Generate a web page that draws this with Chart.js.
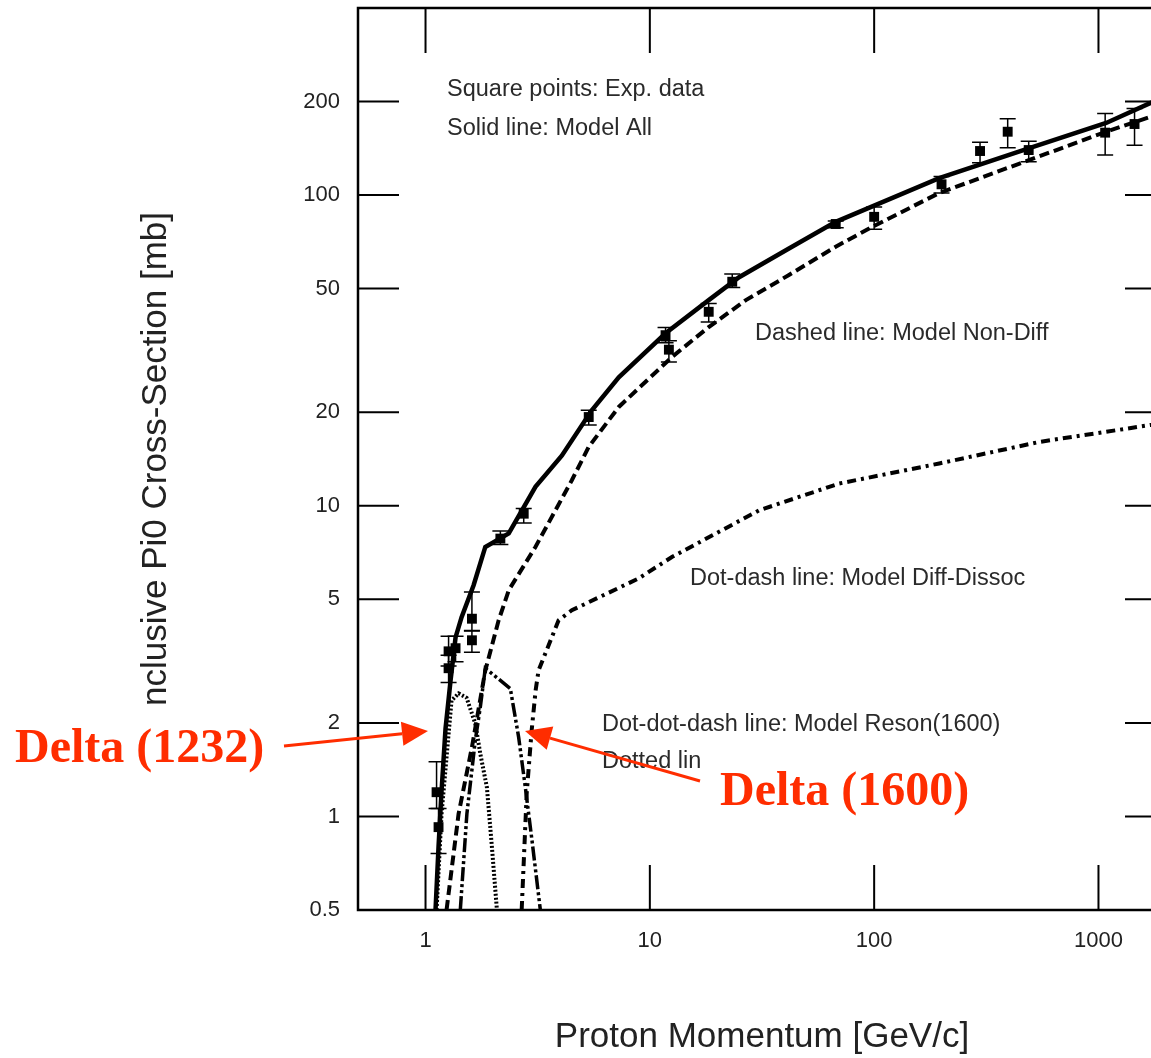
<!DOCTYPE html>
<html>
<head>
<meta charset="utf-8">
<title>Inclusive Pi0 Cross-Section</title>
<script src="https://cdn.jsdelivr.net/npm/chart.js@4.4.1/dist/chart.umd.min.js"></script>
<style>
    html, body { margin: 0; padding: 0; background: #fff; overflow: hidden; }
    #wrap { width: 1180px; height: 1058px; }
</style>
</head>
<body>
<div id="wrap"><canvas id="xsecChart" width="1180" height="1058"></canvas></div>
<script>
// axis ticks
const xTicks = [1, 10, 100, 1000];
const yTicks = [0.5, 1, 2, 5, 10, 20, 50, 100, 200];

// experimental points (squares) with error bars
const expP    = [1.12, 1.143, 1.267, 1.267, 1.361, 1.61, 1.61, 2.156, 2.74, 5.34, 11.75, 12.16, 18.3, 23.3, 67.4, 100, 199.7, 296.5, 393.8, 488.6, 1071, 1448];
const expXsec = [1.197, 0.924, 3.40, 3.0, 3.48, 4.33, 3.69, 7.84, 9.43, 19.3, 35.4, 31.8, 42.1, 52.6, 80.7, 85.1, 108.3, 138.6, 159.9, 139.6, 158.8, 169.3];
const expLow  = [1.06, 0.76, 3.05, 2.7, 3.15, 3.95, 3.38, 7.5, 8.8, 18.2, 33.5, 29.0, 39.0, 50.4, 78.5, 77.6, 101.5, 127, 142, 128, 134.6, 144.6];
const expHigh = [1.5, 1.06, 3.80, 3.3, 3.8, 5.28, 3.97, 8.3, 9.8, 20.3, 37.5, 34.0, 44.8, 55.7, 82.5, 91.5, 114.7, 148, 176, 149, 183, 190];

// Model All (solid)
const allP    = [1.108, 1.143, 1.179, 1.228, 1.293, 1.361, 1.448, 1.638, 1.847, 2.35, 3.09, 4.05, 5.51, 7.27, 11.75, 18.3, 25.0, 41.7, 67.4, 195, 492, 1082, 1708, 2000];
const allXsec = [0.5, 0.80, 1.21, 1.92, 2.74, 3.77, 4.38, 5.55, 7.37, 8.15, 11.5, 14.5, 20.3, 25.9, 35.9, 45.9, 54.4, 67.3, 82.0, 113.4, 141.7, 170.6, 197.9, 206];

// Model Non-Diff (dashed)
const nonDiffP    = [1.241, 1.404, 1.61, 1.847, 2.118, 2.35, 3.09, 4.49, 5.34, 7.27, 12.54, 18.3, 26.8, 41.7, 67.4, 98, 195, 492, 1082, 1708, 2000];
const nonDiffXsec = [0.5, 1.02, 1.67, 2.95, 4.28, 5.35, 7.37, 12.08, 15.47, 20.8, 30.1, 37.6, 45.9, 55.3, 68.2, 79, 101.5, 129.7, 159.9, 178.7, 184];

// Model Diff-Dissoc (dot-dash)
const diffP    = [2.683, 2.825, 2.972, 3.097, 3.19, 3.92, 4.49, 8.93, 12.54, 30.7, 69.8, 195, 545, 1708, 2000];
const diffXsec = [0.5, 1.186, 1.89, 2.55, 2.95, 4.28, 4.61, 5.84, 6.84, 9.67, 11.79, 13.68, 16.05, 18.2, 18.4];

// Model Reson(1600) (dot-dot-dash)
const reson1600P    = [1.429, 1.529, 1.667, 1.755, 1.847, 2.388, 2.601, 2.786, 2.983, 3.25];
const reson1600Xsec = [0.5, 1.02, 1.76, 2.25, 3.0, 2.58, 1.80, 1.24, 0.837, 0.5];

// Model Reson(1232) (dotted)
const reson1232P    = [1.12, 1.179, 1.306, 1.404, 1.524, 1.667, 1.755, 1.878, 1.977, 2.081];
const reson1232Xsec = [0.5, 1.02, 2.36, 2.49, 2.41, 1.99, 1.59, 1.24, 0.796, 0.5];

const toPoints = (xs, ys) => xs.map((x, i) => ({ x: x, y: ys[i] }));

const curve = (label, xs, ys, dash, width) => ({
    label: label,
    data: toPoints(xs, ys),
    showLine: true,
    borderColor: '#000',
    borderWidth: width,
    borderDash: dash,
    pointRadius: 0,
    fill: false,
    tension: 0
});

const fontFamily = '"Liberation Sans", Arial, Helvetica, sans-serif';

// text labels inside the frame (left x, baseline y in px)
const notes = [
    { text: 'Square points: Exp. data', x: 447, y: 96 },
    { text: 'Solid line: Model All', x: 447, y: 135 },
    { text: 'Dashed line: Model Non-Diff', x: 755, y: 340 },
    { text: 'Dot-dash line: Model Diff-Dissoc', x: 690, y: 585 },
    { text: 'Dot-dot-dash line: Model Reson(1600)', x: 602, y: 731 },
    { text: 'Dotted lin', x: 602, y: 768 }
];

// the frame sits exactly where the axes say, no label overhang
const noOverhang = s => {
    s.paddingTop = 0;
    s.paddingBottom = 0;
    s.paddingLeft = 0;
    s.paddingRight = 0;
};

const errorBars = {
    id: 'errorBars',
    afterDatasetsDraw(chart) {
        const { ctx, scales: { x, y } } = chart;
        ctx.save();
        ctx.strokeStyle = '#000';
        ctx.lineWidth = 1.5;
        expP.forEach((p, i) => {
            const px = x.getPixelForValue(p);
            const hi = y.getPixelForValue(expHigh[i]);
            const lo = y.getPixelForValue(expLow[i]);
            ctx.beginPath();
            ctx.moveTo(px, hi); ctx.lineTo(px, lo);
            ctx.moveTo(px - 8, hi); ctx.lineTo(px + 8, hi);
            ctx.moveTo(px - 8, lo); ctx.lineTo(px + 8, lo);
            ctx.stroke();
        });
        ctx.restore();
    }
};

const frame = {
    id: 'frame',
    afterDraw(chart) {
        const { ctx, chartArea: a, scales: { x, y } } = chart;
        ctx.save();
        ctx.strokeStyle = '#000';
        ctx.lineWidth = 2.5;
        ctx.strokeRect(a.left, a.top, a.right - a.left, a.bottom - a.top);
        ctx.lineWidth = 2;
        ctx.beginPath();
        xTicks.forEach(v => {
            const px = x.getPixelForValue(v);
            ctx.moveTo(px, a.bottom); ctx.lineTo(px, a.bottom - 45);
            ctx.moveTo(px, a.top); ctx.lineTo(px, a.top + 45);
        });
        yTicks.forEach(v => {
            const py = y.getPixelForValue(v);
            ctx.moveTo(a.left, py); ctx.lineTo(a.left + 41, py);
            ctx.moveTo(a.right, py); ctx.lineTo(a.right - 41, py);
        });
        ctx.stroke();
        ctx.restore();
    }
};

function arrow(ctx, x1, y1, x2, y2) {
    const ang = Math.atan2(y2 - y1, x2 - x1);
    const len = 26, half = 12;
    const bx = x2 - len * Math.cos(ang), by = y2 - len * Math.sin(ang);
    ctx.beginPath();
    ctx.moveTo(x1, y1);
    ctx.lineTo(bx, by);
    ctx.stroke();
    ctx.beginPath();
    ctx.moveTo(x2, y2);
    ctx.lineTo(bx + half * Math.sin(ang), by - half * Math.cos(ang));
    ctx.lineTo(bx - half * Math.sin(ang), by + half * Math.cos(ang));
    ctx.closePath();
    ctx.fill();
}

const annotations = {
    id: 'annotations',
    afterDraw(chart) {
        const ctx = chart.ctx;
        ctx.save();
        ctx.fillStyle = '#2a2a2a';
        ctx.font = '23.5px ' + fontFamily;
        ctx.textBaseline = 'alphabetic';
        ctx.textAlign = 'left';
        notes.forEach(n => ctx.fillText(n.text, n.x, n.y));

        // red overlay labels and arrows
        ctx.fillStyle = '#ff2d00';
        ctx.strokeStyle = '#ff2d00';
        ctx.lineWidth = 3;
        ctx.font = 'bold 48px "Liberation Serif", "Times New Roman", serif';
        ctx.fillText('Delta (1232)', 15, 762);
        ctx.fillText('Delta (1600)', 720, 805);
        arrow(ctx, 284, 746, 428, 731);
        arrow(ctx, 700, 781, 525, 731);
        ctx.restore();
    }
};

new Chart(document.getElementById('xsecChart').getContext('2d'), {
    type: 'scatter',
    data: {
        datasets: [
            {
                label: 'Exp. data',
                data: toPoints(expP, expXsec),
                pointStyle: 'rect',
                pointRadius: 7,
                backgroundColor: '#000',
                borderColor: '#000',
                borderWidth: 0
            },
            curve('Model All', allP, allXsec, [], 4.5),
            curve('Model Non-Diff', nonDiffP, nonDiffXsec, [10, 5], 4),
            curve('Model Diff-Dissoc', diffP, diffXsec, [9, 5, 3, 5], 4),
            curve('Model Reson(1600)', reson1600P, reson1600Xsec, [14, 3, 3, 3, 3, 3], 3.5),
            curve('Model Reson(1232)', reson1232P, reson1232Xsec, [2, 2], 4)
        ]
    },
    options: {
        responsive: false,
        animation: false,
        layout: { padding: { left: 0, right: 14, top: 8, bottom: 0 } },
        plugins: {
            legend: { display: false },
            tooltip: { enabled: false }
        },
        scales: {
            x: {
                type: 'logarithmic',
                min: 0.5,
                max: 2000,
                afterBuildTicks: s => { s.ticks = xTicks.map(v => ({ value: v })); },
                afterFit: s => { s.height = 148; noOverhang(s); },
                grid: { drawOnChartArea: false, drawTicks: false },
                border: { display: false },
                ticks: {
                    padding: 18,
                    color: '#222',
                    font: { family: fontFamily, size: 22 },
                    maxRotation: 0,
                    callback: v => String(v)
                },
                title: {
                    display: true,
                    text: 'Proton Momentum [GeV/c]',
                    color: '#222',
                    font: { family: fontFamily, size: 35 },
                    padding: { top: 0, bottom: 0 }
                }
            },
            y: {
                type: 'logarithmic',
                min: 0.5,
                max: 400,
                afterBuildTicks: s => { s.ticks = yTicks.map(v => ({ value: v })); },
                afterFit: s => { s.width = 358; noOverhang(s); },
                grid: { drawOnChartArea: false, drawTicks: false },
                border: { display: false },
                ticks: {
                    padding: 18,
                    color: '#222',
                    font: { family: fontFamily, size: 22 },
                    callback: v => String(v)
                },
                title: {
                    display: true,
                    text: 'nclusive Pi0 Cross-Section [mb]',
                    color: '#222',
                    font: { family: fontFamily, size: 35 },
                    padding: { top: 135, bottom: 0 }
                }
            }
        }
    },
    plugins: [errorBars, frame, annotations]
});
</script>
</body>
</html>
